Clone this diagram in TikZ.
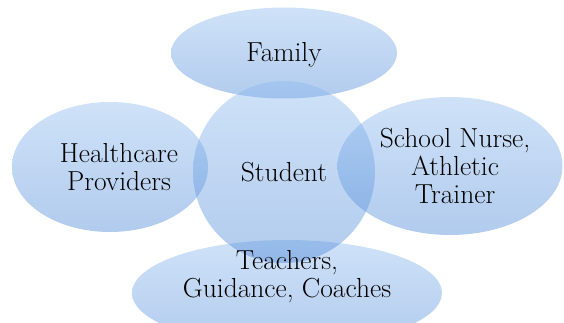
\documentclass[tikz,border=0pt]{standalone}
\usepackage{fontspec}
\usepackage{tikz}
\usetikzlibrary{shapes}

\definecolor{venntop}{RGB}{140,185,238}
\definecolor{vennbot}{RGB}{70,132,214}

\tikzset{
  venn/.style={ellipse, inner sep=0pt, draw=none, top color=venntop, bottom color=vennbot, fill opacity=0.42},
  lbl/.style={align=center, text=black, inner sep=0pt, font=\fontsize{27.5}{28}\selectfont}
}

\begin{document}
\begin{tikzpicture}[x=1pt,y=-1pt]
   \useasboundingbox (0,0) rectangle (564,323);
   % the five bubbles
   \node[venn, minimum width=226pt, minimum height=91pt] (fam) at (284,53) {};
   \node[venn, minimum width=196pt, minimum height=130pt] (hc) at (110,167) {};
   \node[venn, minimum width=225pt, minimum height=138pt] (sn) at (450,166) {};
   \node[venn, minimum width=310pt, minimum height=106pt] (tch) at (287,293) {};
   \node[venn, circle, minimum size=182pt] (stud) at (284,172) {};
   % texts on top
   \node[lbl] (famtxt) at ([yshift=-2pt]fam.center) {Family};
   \node[lbl] (hctxt) at ([xshift=9pt]hc.center) {Healthcare\\Providers};
   \node[lbl] (sntxt) at ([xshift=5pt]sn.center) {School Nurse,\\Athletic\\Trainer};
   \node[lbl] (tchtxt) at ([yshift=16pt]tch.center) {Teachers,\\Guidance, Coaches};
   \node[lbl] (studtxt) at (stud) {Student};
\end{tikzpicture}
\end{document}
